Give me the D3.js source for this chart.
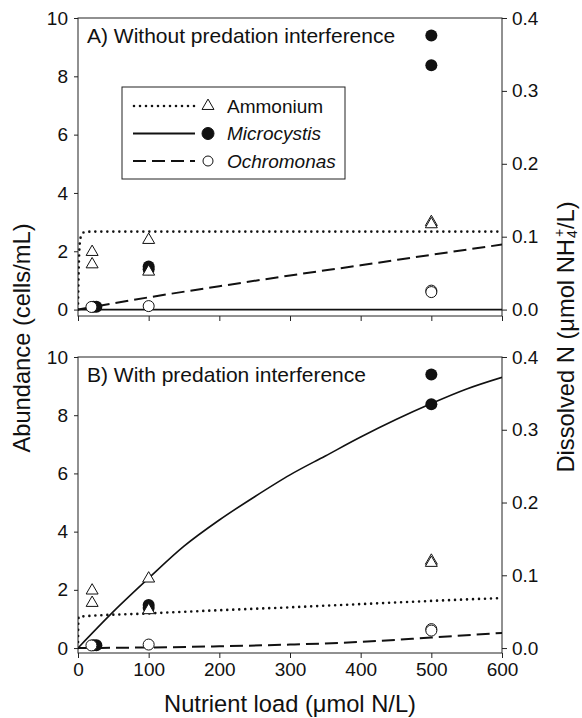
<!DOCTYPE html>
<html>
<head>
<meta charset="utf-8">
<script src="https://cdn.jsdelivr.net/npm/d3@7"></script>
<style>
  body { margin: 0; background: #fff; }
  text { font-family: "Liberation Sans", Arial, Helvetica, sans-serif; fill: #111; }
</style>
</head>
<body>
<svg id="chart" width="582" height="718"></svg>
<script>
// tick values
const loadTicks = [0, 100, 200, 300, 400, 500, 600];
const abundTicks = [0, 2, 4, 6, 8, 10];
const nTicks = [0, 0.1, 0.2, 0.3, 0.4];

// observations (same in both panels): [load, value]
const ammoniumObs = [[20, 0.079], [20, 0.062], [100, 0.0955], [100, 0.052], [500, 0.12], [500, 0.117]]; // umol NH4/L
const microObs = [[22, 0.1], [26, 0.1], [100, 1.48], [100, 1.38], [500, 9.4], [500, 8.38]];             // cells/mL
const ochroObs = [[19, 0.09], [100, 0.12], [500, 0.65], [500, 0.6]];                                    // cells/mL

// model curves, panel A (without predation interference)
const ammoniumA = [[0, 0], [0.5, 0.03], [1, 0.055], [1.5, 0.072], [2, 0.083], [3, 0.095], [4, 0.1], [6, 0.104], [10, 0.1065], [20, 0.107], [600, 0.107]];
const microA = [[0, 0], [600, 0]];
const ochroA = [[0, 0], [100, 0.42], [200, 0.8], [300, 1.17], [400, 1.52], [500, 1.88], [600, 2.23]];

// model curves, panel B (with predation interference)
const ammoniumB = [[0, 0], [0.5, 0.035], [1, 0.043], [100, 0.0476], [200, 0.052], [300, 0.056], [400, 0.0604], [500, 0.0648], [600, 0.0688]];
const microB = [[0, 0], [50, 1.25], [100, 2.4], [150, 3.5], [200, 4.4], [250, 5.2], [300, 5.95], [350, 6.6], [400, 7.25], [450, 7.85], [500, 8.4], [550, 8.9], [600, 9.3]];
const ochroB = [[0, 0], [100, 0.02], [200, 0.06], [300, 0.12], [400, 0.21], [500, 0.36], [600, 0.52]];

const svg = d3.select('#chart');
const left = 78, right = 502;
const x = d3.scaleLinear().domain([0, 600]).range([left, right]);

const styles = {
    dotted: { dash: '0,6', width: 2.6, cap: 'round' },
    solid: { dash: null, width: 1.6, cap: 'butt' },
    dashed: { dash: '13,6', width: 2, cap: 'butt' }
};

const panels = [
    { title: 'A) Without predation interference', top: 18, bottom: 316, yMin: -0.22,
      ammonium: ammoniumA, micro: microA, ochro: ochroA, xLabels: false, legend: true },
    { title: 'B) With predation interference', top: 357, bottom: 653, yMin: -0.17,
      ammonium: ammoniumB, micro: microB, ochro: ochroB, xLabels: true, legend: false }
];

const triangle = d3.symbol().type(d3.symbolTriangle).size(62);

panels.forEach((p, i) => {
    const y = d3.scaleLinear().domain([p.yMin, 10]).range([p.bottom, p.top]);
    const y2 = d3.scaleLinear().domain([p.yMin * 0.04, 0.4]).range([p.bottom, p.top]);
    const g = svg.append('g');

    // axes
    const ax = g.append('g').attr('transform', `translate(0,${p.bottom})`)
        .call(d3.axisBottom(x).tickValues(loadTicks).tickSize(5).tickSizeOuter(0).tickPadding(5)
            .tickFormat(p.xLabels ? d3.format('d') : ''));
    const ay = g.append('g').attr('transform', `translate(${left},0)`)
        .call(d3.axisLeft(y).tickValues(abundTicks).tickSize(4).tickSizeOuter(0).tickPadding(6));
    const ay2 = g.append('g').attr('transform', `translate(${right},0)`)
        .call(d3.axisRight(y2).tickValues(nTicks).tickSize(5).tickSizeOuter(0).tickPadding(5)
            .tickFormat(d3.format('.1f')));
    [ax, ay, ay2].forEach(a => {
        a.selectAll('.domain').remove();
        a.selectAll('line').attr('stroke', '#222');
        a.selectAll('text').style('font-size', '19px').attr('fill', '#111');
    });

    g.append('rect')
        .attr('x', left).attr('y', p.top)
        .attr('width', right - left).attr('height', p.bottom - p.top)
        .attr('fill', 'none').attr('stroke', '#222').attr('stroke-width', 1);

    // clip
    svg.append('clipPath').attr('id', 'clip' + i).append('rect')
        .attr('x', left).attr('y', p.top).attr('width', right - left).attr('height', p.bottom - p.top);
    const plot = g.append('g').attr('clip-path', `url(#clip${i})`);

    const lineL = d3.line().x(d => x(d[0])).y(d => y(d[1])).curve(d3.curveMonotoneX);
    const lineR = d3.line().x(d => x(d[0])).y(d => y2(d[1])).curve(d3.curveMonotoneX);

    function drawLine(data, gen, st) {
        const s = styles[st];
        plot.append('path').datum(data)
            .attr('d', gen)
            .attr('fill', 'none')
            .attr('stroke', '#111')
            .attr('stroke-width', s.width)
            .attr('stroke-linecap', s.cap)
            .attr('stroke-dasharray', s.dash);
    }
    drawLine(p.micro, lineL, 'solid');
    drawLine(p.ochro, lineL, 'dashed');
    drawLine(p.ammonium, lineR, 'dotted');

    // points
    plot.selectAll('.micro').data(microObs).join('circle')
        .attr('cx', d => x(d[0])).attr('cy', d => y(d[1])).attr('r', 6)
        .attr('fill', '#111');
    plot.selectAll('.ochro').data(ochroObs).join('circle')
        .attr('cx', d => x(d[0])).attr('cy', d => y(d[1])).attr('r', 5.5)
        .attr('fill', '#fff').attr('stroke', '#111').attr('stroke-width', 1);
    plot.selectAll('.amm').data(ammoniumObs).join('path')
        .attr('d', triangle)
        .attr('transform', d => `translate(${x(d[0])},${y2(d[1])})`)
        .attr('fill', '#fff').attr('stroke', '#111').attr('stroke-width', 1);

    g.append('text')
        .attr('x', 87).attr('y', p.top + 25)
        .style('font-size', '21px')
        .text(p.title);

    if (p.legend) {
        const lg = g.append('g');
        lg.append('rect').attr('x', 122).attr('y', 87).attr('width', 223).attr('height', 92)
            .attr('fill', '#fff').attr('stroke', '#222').attr('stroke-width', 1);
        const items = [
            { name: 'Ammonium', st: 'dotted', sym: 'tri', italic: false },
            { name: 'Microcystis', st: 'solid', sym: 'filled', italic: true },
            { name: 'Ochromonas', st: 'dashed', sym: 'open', italic: true }
        ];
        items.forEach((it, k) => {
            const ry = 106 + k * 27.5;
            const s = styles[it.st];
            lg.append('line').attr('x1', it.st === 'dotted' ? 134 : 133).attr('x2', 195)
                .attr('y1', ry).attr('y2', ry)
                .attr('stroke', '#111').attr('stroke-width', it.st === 'solid' ? 2 : s.width)
                .attr('stroke-linecap', s.cap).attr('stroke-dasharray', s.dash);
            if (it.sym === 'tri') {
                lg.append('path').attr('d', triangle).attr('transform', `translate(208,${ry})`)
                    .attr('fill', '#fff').attr('stroke', '#111');
            } else {
                lg.append('circle').attr('cx', 208).attr('cy', ry)
                    .attr('r', it.sym === 'filled' ? 6 : 5)
                    .attr('fill', it.sym === 'filled' ? '#111' : '#fff')
                    .attr('stroke', '#111');
            }
            lg.append('text').attr('x', 227).attr('y', ry).attr('dy', '0.35em')
                .style('font-size', '19px')
                .style('font-style', it.italic ? 'italic' : 'normal')
                .text(it.name);
        });
    }
});

// axis titles
svg.append('text')
    .attr('x', 290).attr('y', 712)
    .attr('text-anchor', 'middle')
    .style('font-size', '23.7px')
    .text('Nutrient load (\u03bcmol N/L)');

svg.append('text')
    .attr('transform', 'translate(30,338) rotate(-90)')
    .attr('text-anchor', 'middle')
    .style('font-size', '23.7px')
    .text('Abundance (cells/mL)');

const rt = svg.append('text')
    .attr('transform', 'translate(574,337) rotate(-90)')
    .attr('text-anchor', 'middle')
    .style('font-size', '23.7px');
rt.append('tspan').text('Dissolved N (\u03bcmol NH');
rt.append('tspan').attr('dx', 2).attr('dy', -10).style('font-size', '14px').text('+');
rt.append('tspan').attr('dx', -9).attr('dy', 13).style('font-size', '14px').text('4');
rt.append('tspan').attr('dx', 1).attr('dy', -3).text('/L)');
</script>
</body>
</html>
